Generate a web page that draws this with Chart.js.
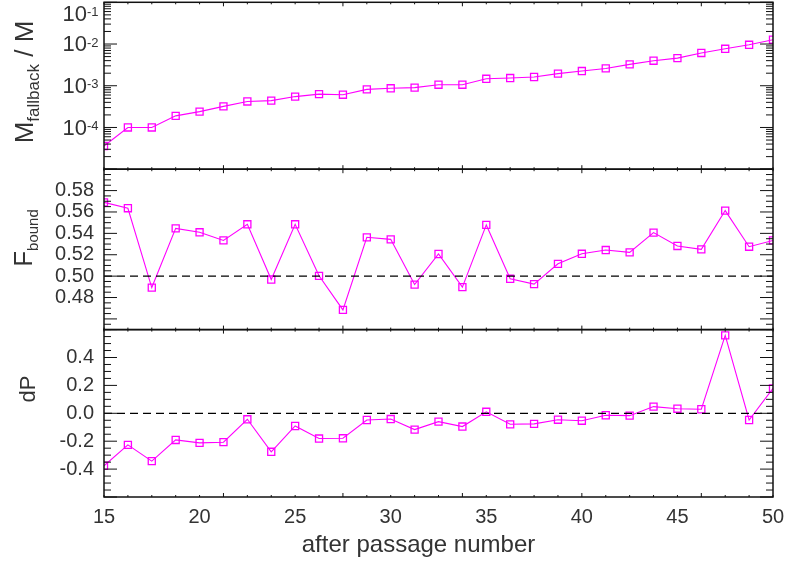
<!DOCTYPE html>
<html lang="en">
<head>
<meta charset="UTF-8">
<script src="https://cdn.jsdelivr.net/npm/chart.js"></script>
<title>fallback per passage</title>
<style>
  html, body { margin: 0; padding: 0; background: #fff; }
</style>
</head>
<body>
<canvas id="passages" width="811" height="562"></canvas>
<script>
// values, one entry per passage
const passage = [15, 16.25, 17.5, 18.75, 20, 21.25, 22.5, 23.75, 25, 26.25, 27.5, 28.75, 30, 31.25,
                 32.5, 33.75, 35, 36.25, 37.5, 38.75, 40, 41.25, 42.5, 43.75, 45, 46.25, 47.5, 48.75, 50];
const mFallback = [3.6e-5, 1.0e-4, 1.0e-4, 1.9e-4, 2.4e-4, 3.2e-4, 4.2e-4, 4.4e-4, 5.5e-4, 6.3e-4,
                   6.1e-4, 8.2e-4, 8.7e-4, 9.0e-4, 1.06e-3, 1.06e-3, 1.47e-3, 1.53e-3, 1.62e-3, 1.95e-3,
                   2.25e-3, 2.6e-3, 3.26e-3, 3.98e-3, 4.6e-3, 6.1e-3, 7.7e-3, 9.6e-3, 1.27e-2];
const fBound = [0.569, 0.5635, 0.4893, 0.5447, 0.541, 0.5334, 0.5485, 0.4968, 0.5485, 0.5003,
                0.4684, 0.5363, 0.5344, 0.4921, 0.5207, 0.4897, 0.5479, 0.4975, 0.4925, 0.5115,
                0.5209, 0.5244, 0.5222, 0.5407, 0.5282, 0.525, 0.5613, 0.5275, 0.5334];
const dP = [-0.376, -0.226, -0.343, -0.191, -0.212, -0.207, -0.043, -0.276, -0.091, -0.181,
            -0.179, -0.048, -0.041, -0.117, -0.06, -0.095, 0.011, -0.079, -0.076, -0.046,
            -0.053, -0.014, -0.017, 0.048, 0.033, 0.029, 0.559, -0.048, 0.179];

// dashed reference levels
const refX = [15, 50];
const fRef = [0.5, 0.5];
const dpRef = [0, 0];

// ticks and labels
const xLabels = [15, 20, 25, 30, 35, 40, 45, 50];
const xMajor = [21.25, 27.5, 33.75, 40, 46.25];
const logLabels = [1e-1, 1e-2, 1e-3, 1e-4];
const fLabels = [0.48, 0.50, 0.52, 0.54, 0.56, 0.58];
const dpLabels = [-0.4, -0.2, 0.0, 0.2, 0.4];

const FONT = '"Liberation Sans", Arial, Helvetica, sans-serif';
const TEXT = '#333';
const MAGENTA = '#ff00ff';

Chart.defaults.font.family = FONT;
Chart.defaults.color = TEXT;

function pts(ys, xs) {
  return ys.map((y, i) => ({ x: xs[i], y: y }));
}

function seriesSet(ys, axis) {
  return {
    data: pts(ys, passage),
    yAxisID: axis,
    borderColor: MAGENTA,
    borderWidth: 1.1,
    backgroundColor: 'rgba(0,0,0,0)',
    pointStyle: 'rect',
    pointRadius: 5,
    pointBorderWidth: 1.3,
    pointBorderColor: MAGENTA,
    tension: 0
  };
}

function refSet(ys, axis) {
  return {
    data: pts(ys, refX),
    yAxisID: axis,
    borderColor: '#000',
    borderWidth: 1.2,
    borderDash: [8, 5],
    pointRadius: 0
  };
}

function line(ctx, x1, y1, x2, y2) {
  ctx.beginPath();
  ctx.moveTo(x1, y1);
  ctx.lineTo(x2, y2);
  ctx.stroke();
}

// rotated title made of pieces (for the subscripts)
function verticalTitle(ctx, parts, bx, cy) {
  ctx.save();
  ctx.translate(bx, cy);
  ctx.rotate(-Math.PI / 2);
  ctx.fillStyle = TEXT;
  ctx.textAlign = 'left';
  ctx.textBaseline = 'alphabetic';
  let total = 0;
  parts.forEach(p => {
    ctx.font = p.size + 'px ' + FONT;
    p.w = ctx.measureText(p.text).width;
    total += p.w;
  });
  let pos = -total / 2;
  parts.forEach(p => {
    ctx.font = p.size + 'px ' + FONT;
    ctx.fillText(p.text, pos, p.shift);
    pos += p.w;
  });
  ctx.restore();
}

// IDL style frame: inward ticks on every side of every panel
const idlFrame = {
  id: 'idlFrame',
  afterDatasetsDraw(chart) {
    const ctx = chart.ctx;
    const area = chart.chartArea;
    const sx = chart.scales.x;
    const panels = [chart.scales.yM, chart.scales.yF, chart.scales.yD];
    ctx.save();
    ctx.strokeStyle = '#111';
    ctx.lineWidth = 1;

    panels.forEach(p => {
      for (let v = 15; v <= 50.001; v += 1.25) {
        const px = sx.getPixelForValue(v);
        const len = xMajor.some(m => Math.abs(m - v) < 1e-6) ? 4 : 2;
        line(ctx, px, p.top, px, p.top + len);
        line(ctx, px, p.bottom, px, p.bottom - len);
      }
    });

    const yTick = (scale, v, len) => {
      const py = scale.getPixelForValue(v);
      line(ctx, area.left, py, area.left + len, py);
      line(ctx, area.right, py, area.right - len, py);
    };

    // log panel
    const yM = chart.scales.yM;
    for (let d = -5; d <= -1; d++) {
      yTick(yM, Math.pow(10, d), 13);
      if (d < -1) {
        for (let k = 2; k <= 9; k++) yTick(yM, k * Math.pow(10, d), 7);
      }
    }
    // F bound panel
    const yF = chart.scales.yF;
    for (let i = 0; i <= 30; i++) {
      const v = 0.45 + i * 0.005;
      yTick(yF, v, (i % 4 === 2) ? 13 : 7);
    }
    // dP panel
    const yD = chart.scales.yD;
    for (let i = 0; i <= 24; i++) {
      const v = -0.6 + i * 0.05;
      yTick(yD, v, (i % 4 === 0) ? 13 : 7);
    }

    // panel boxes
    ctx.lineWidth = 1.5;
    panels.forEach(p => {
      ctx.strokeRect(area.left, p.top, area.right - area.left, p.bottom - p.top);
    });

    // log labels 10^n
    ctx.fillStyle = TEXT;
    logLabels.forEach(v => {
      let py = yM.getPixelForValue(v) + 1;
      py = Math.max(py, yM.top + 12.5);
      const ex = area.left - 17;
      ctx.font = '22px ' + FONT;
      ctx.textAlign = 'right';
      ctx.textBaseline = 'middle';
      ctx.fillText('10', ex, py);
      ctx.font = '13px ' + FONT;
      ctx.textAlign = 'left';
      ctx.textBaseline = 'alphabetic';
      ctx.fillText(String(Math.round(Math.log10(v))), ex, py + 1.5);
    });

    // axis titles
    verticalTitle(ctx, [
      { text: 'M', size: 26, shift: 0 },
      { text: 'fallback', size: 17, shift: 6 },
      { text: ' / M', size: 26, shift: 0 }
    ], 33, 82);
    verticalTitle(ctx, [
      { text: 'F', size: 26, shift: 0 },
      { text: 'bound', size: 15, shift: 6 }
    ], 32, 238);
    verticalTitle(ctx, [
      { text: 'dP', size: 22, shift: 0 }
    ], 35, 389);

    ctx.font = '24px ' + FONT;
    ctx.textAlign = 'center';
    ctx.textBaseline = 'middle';
    ctx.fillText('after passage number', (area.left + area.right) / 2 - 20, 545);
    ctx.restore();
  }
};

const hidden = { display: false, drawTicks: false };
const tickFont = { size: 20, family: FONT };

// fixed axis sizes so the plot box sits where the figure has it
function fixY(s) {
  s.width = 104;
  s.paddingTop = 0;
  s.paddingBottom = 0;
}
function fixX(s) {
  s.height = 65;
  s.paddingLeft = 0;
  s.paddingRight = 0;
}

new Chart(document.getElementById('passages'), {
  type: 'line',
  data: {
    datasets: [
      refSet(fRef, 'yF'),
      refSet(dpRef, 'yD'),
      seriesSet(mFallback, 'yM'),
      seriesSet(fBound, 'yF'),
      seriesSet(dP, 'yD')
    ]
  },
  options: {
    responsive: false,
    animation: false,
    devicePixelRatio: 1,
    layout: { autoPadding: false, padding: { top: 2.3, right: 38, bottom: 0, left: 0 } },
    plugins: { legend: { display: false }, tooltip: { enabled: false } },
    scales: {
      x: {
        type: 'linear', min: 15, max: 50, position: 'bottom',
        afterFit: fixX,
        afterBuildTicks: s => { s.ticks = xLabels.map(v => ({ value: v })); },
        ticks: { autoSkip: false, maxRotation: 0, padding: 8, color: TEXT, font: tickFont },
        grid: hidden, border: { display: false }
      },
      yM: {
        type: 'logarithmic', min: 1e-5, max: 1e-1, position: 'left',
        stack: 'panels', stackWeight: 167, weight: 3,
        afterFit: fixY,
        ticks: { display: false },
        grid: hidden, border: { display: false }
      },
      yF: {
        type: 'linear', min: 0.45, max: 0.60, position: 'left',
        stack: 'panels', stackWeight: 160.5, weight: 2,
        afterFit: fixY,
        afterBuildTicks: s => { s.ticks = fLabels.map(v => ({ value: v })); },
        ticks: { autoSkip: false, padding: 10, color: TEXT, font: tickFont, callback: v => v.toFixed(2) },
        grid: hidden, border: { display: false }
      },
      yD: {
        type: 'linear', min: -0.6, max: 0.6, position: 'left',
        stack: 'panels', stackWeight: 167.5, weight: 1,
        afterFit: fixY,
        afterBuildTicks: s => { s.ticks = dpLabels.map(v => ({ value: v })); },
        ticks: { autoSkip: false, padding: 10, color: TEXT, font: tickFont, callback: v => v.toFixed(1) },
        grid: hidden, border: { display: false }
      }
    }
  },
  plugins: [idlFrame]
});
</script>
</body>
</html>
